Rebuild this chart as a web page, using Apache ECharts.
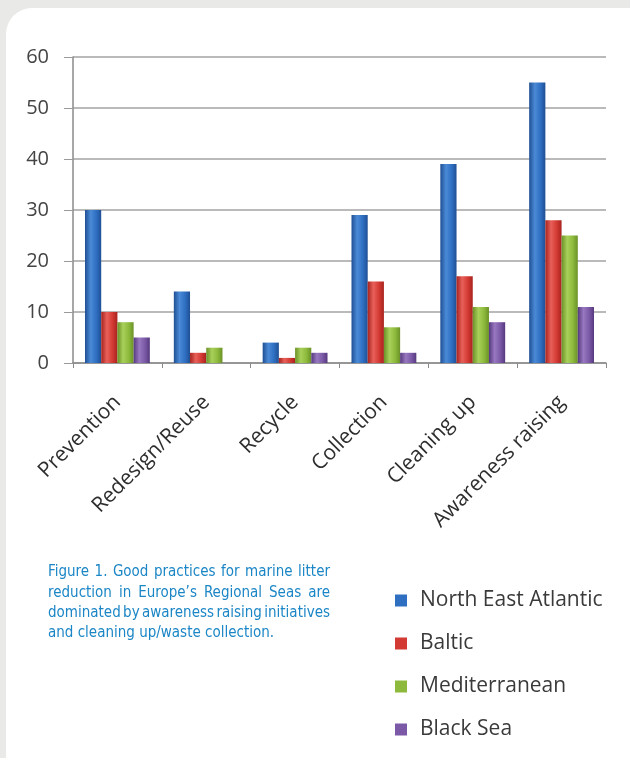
<!DOCTYPE html>
<html><head><meta charset="utf-8">
<script src="https://cdn.jsdelivr.net/npm/echarts@6/dist/echarts.min.js"></script>
<style>html,body{margin:0;padding:0;background:#e9e9e7;}#c{width:630px;height:758px;}</style>
</head><body><div id="c"></div>
<script>
const categories = ['Prevention','Redesign/Reuse','Recycle','Collection','Cleaning up','Awareness raising'];
const northEastAtlantic = [30, 14, 4, 29, 39, 55];
const baltic = [10, 2, 1, 16, 17, 28];
const mediterranean = [8, 3, 3, 7, 11, 25];
const blackSea = [5, 0, 2, 2, 8, 11];
const seriesNames = ['North East Atlantic','Baltic','Mediterranean','Black Sea'];
const yTicks = [0,10,20,30,40,50,60];
const captionLines = ['Figure 1. Good practices for marine litter','reduction in Europe\u2019s Regional Seas are','dominated by awareness raising initiatives','and cleaning up/waste collection.'];

function cyl(dark, mid, light){
  return {type:'linear',x:0,y:0,x2:1,y2:0,colorStops:[
    {offset:0,color:dark},{offset:0.35,color:light},{offset:0.7,color:mid},{offset:1,color:dark}]};
}
const colors = [
  cyl('#1f4f94','#2f6fc2','#4a8ad6'),
  cyl('#a8231e','#d33a33','#e8605a'),
  cyl('#6a9127','#8dba3c','#a8d05a'),
  cyl('#56397f','#7b59a6','#9878c0')
];
const legendColors = ['#2f6fc2','#d33a33','#8dba3c','#7b59a6'];
const dataSets = [northEastAtlantic, baltic, mediterranean, blackSea];

const chart = echarts.init(document.getElementById('c'));
const graphics = [
  {type:'rect', shape:{x:6,y:8,width:660,height:800,r:26}, style:{fill:'#ffffff'}, z:-10, silent:true}
];

// justified caption (words placed so that lines fill the caption width)
const capFont = '15px "DejaVu Sans Condensed", sans-serif';
const capLeft = 48, capWidth = 282, capTop = 565, capLineH = 20.3;
const mctx = document.createElement('canvas').getContext('2d');
mctx.font = capFont;
captionLines.forEach((line, li) => {
  const words = line.split(' ');
  const last = li === captionLines.length - 1;
  const widths = words.map(w => mctx.measureText(w).width);
  const total = widths.reduce((a,b)=>a+b,0);
  const space = last ? mctx.measureText(' ').width : (capWidth - total) / (words.length - 1);
  let x = capLeft;
  words.forEach((w, wi) => {
    graphics.push({type:'text', x:x, y:capTop + li*capLineH, style:{text:w, fill:'#1b86c6', font:capFont}});
    x += widths[wi] + space;
  });
});

chart.setOption({
  animation:false,
  backgroundColor:'transparent',
  graphic: graphics,
  legend:{
    orient:'vertical', left:390, top:585, itemGap:22, itemWidth:12, itemHeight:12,
    icon:'rect',
    textStyle:{fontSize:21, color:'#3a3a3a', fontFamily:'"Open Sans", sans-serif', padding:[0,0,0,8]},
    data: seriesNames.map((n,i)=>({name:n, itemStyle:{color:legendColors[i]}}))
  },
  grid:{left:73, right:24, top:57, bottom:395},
  xAxis:{
    type:'category', data:categories,
    axisLine:{lineStyle:{color:'#8a8a8a', width:1.5}},
    axisTick:{show:true, length:5, lineStyle:{color:'#8a8a8a'}},
    axisLabel:{rotate:45, fontSize:21, color:'#2e2e2e', margin:36, interval:0, fontFamily:'"Open Sans", sans-serif'}
  },
  yAxis:{
    type:'value', min:0, max:60, interval:10,
    axisLine:{show:true, lineStyle:{color:'#8a8a8a', width:1.5}},
    axisTick:{show:true, length:9, lineStyle:{color:'#9a9a9a'}},
    splitLine:{lineStyle:{color:'#a3a3a3', width:1.6}},
    axisLabel:{fontSize:20, color:'#444', margin:24, fontFamily:'"Open Sans", sans-serif',
      formatter:(v)=> yTicks.includes(v) ? String(v) : ''}
  },
  series: seriesNames.map((n,i)=>({
    name:n, type:'bar', data:dataSets[i], barGap:'0%', barCategoryGap:'27%',
    itemStyle:{color:colors[i]}
  }))
});
</script></body></html>
